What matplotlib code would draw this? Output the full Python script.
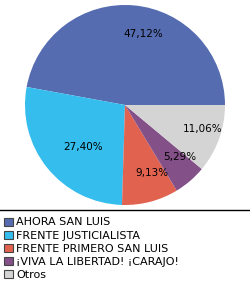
import matplotlib
matplotlib.use("Agg")
import matplotlib.pyplot as plt
from matplotlib.patches import Patch
from matplotlib.lines import Line2D

labels = ["AHORA SAN LUIS", "FRENTE JUSTICIALISTA", "FRENTE PRIMERO SAN LUIS",
          "¡VIVA LA LIBERTAD! ¡CARAJO!", "Otros"]
values = [47.12, 27.40, 9.13, 5.29, 11.06]
colors = ["#566cb0", "#35bdee", "#e0624f", "#835088", "#d4d4d4"]

plt.rcParams['font.family'] = ['DejaVu Sans']

fig = plt.figure(figsize=(2.5, 2.85), dpi=100)
ax = fig.add_axes([0.1, 0.2807, 0.8, 0.7018])
wedges, texts, autotexts = ax.pie(
    values, colors=colors, startangle=0, counterclock=True,
    autopct=lambda p: f"{p:.2f}".replace(".", ",") + "%",
    pctdistance=0.72, textprops=dict(fontsize=7.5, color="black"))
# nudge label positions to match reference
offsets = [(0.18, 0.71), (-0.42, -0.42), (0.27, -0.68), (0.55, -0.52), (0.78, -0.24)]
for t, (x, y) in zip(autotexts, offsets):
    t.set_position((x, y))
ax.set_aspect('equal')
ax.set_xlim(-1, 1)
ax.set_ylim(-1, 1)

fig.add_artist(Line2D([0, 1], [1 - 209.5 / 285] * 2, color="black", lw=1,
                      transform=fig.transFigure))

handles = [Patch(facecolor=c, edgecolor="#444444", lw=0.8) for c in colors]
fig.legend(handles, labels, loc="upper left", bbox_to_anchor=(0.0, 1 - 213 / 285),
           frameon=False, fontsize=8, handlelength=0.75, handleheight=0.75,
           handletextpad=0.3, labelspacing=0.28, borderaxespad=0.2, borderpad=0.2)

fig.savefig("out.png", dpi=100)
